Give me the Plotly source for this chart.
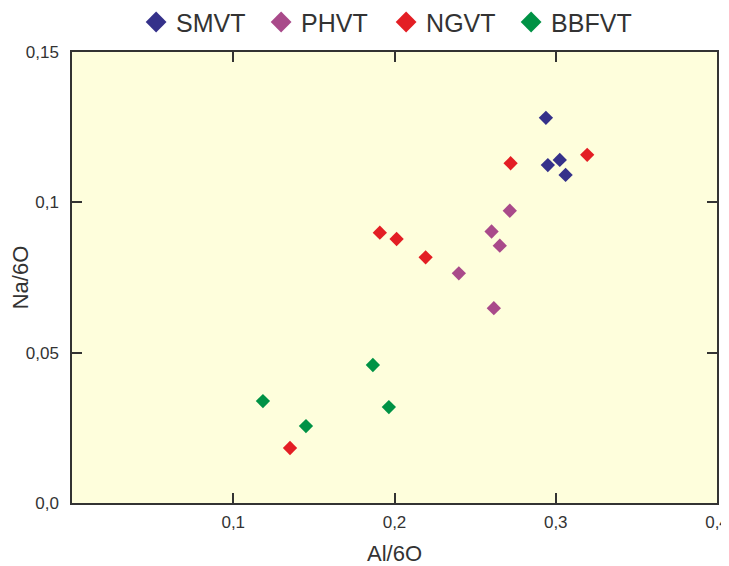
import plotly.graph_objects as go

series_names = ["SMVT", "PHVT", "NGVT", "BBFVT"]
series_colors = ["#35318a", "#a94a8a", "#e31e24", "#009245"]

smvt_x = [0.2939, 0.2951, 0.3025, 0.3061]
smvt_y = [0.1281, 0.1124, 0.1141, 0.1091]

phvt_x = [0.2715, 0.2602, 0.2653, 0.2399, 0.2616]
phvt_y = [0.0972, 0.0903, 0.0856, 0.0764, 0.0648]

ngvt_x = [0.2720, 0.3195, 0.1909, 0.2013, 0.2193, 0.1352]
ngvt_y = [0.1130, 0.1158, 0.0899, 0.0878, 0.0817, 0.0183]

bbfvt_x = [0.1184, 0.1451, 0.1866, 0.1965]
bbfvt_y = [0.0339, 0.0256, 0.0459, 0.0319]

x_tickvals = [0.1, 0.2, 0.3, 0.4]
x_ticktext = ["0,1", "0,2", "0,3", "0,4"]
y_tickvals = [0.0, 0.05, 0.1, 0.15]
y_ticktext = ["0,0", "0,05", "0,1", "0,15"]

data_x = [smvt_x, phvt_x, ngvt_x, bbfvt_x]
data_y = [smvt_y, phvt_y, ngvt_y, bbfvt_y]

fig = go.Figure()
for name, color, xs, ys in zip(series_names, series_colors, data_x, data_y):
    fig.add_trace(go.Scatter(
        x=xs, y=ys, mode="markers", name=name, showlegend=False,
        marker=dict(symbol="diamond", size=11, color=color, line=dict(width=0)),
    ))
# legend entries with larger markers
for name, color in zip(series_names, series_colors):
    fig.add_trace(go.Scatter(
        x=[None], y=[None], mode="markers", name=name, showlegend=True,
        marker=dict(symbol="diamond", size=16, color=color, line=dict(width=0)),
    ))

axis_common = dict(
    showline=True, linecolor="#333333", linewidth=1.5, mirror="ticks",
    ticks="inside", ticklen=10, tickwidth=1.5, tickcolor="#333333",
    showgrid=False, zeroline=False, automargin=False,
    tickfont=dict(family="Liberation Sans, Arial, sans-serif", size=17, color="#333333"),
)

fig.update_layout(
    width=729, height=566,
    margin=dict(l=64, r=20, t=44, b=71, autoexpand=False),
    paper_bgcolor="white",
    plot_bgcolor="#fefedc",
    font=dict(family="Liberation Sans, Arial, sans-serif", color="#333333"),
    legend=dict(
        orientation="h", x=0.487, xanchor="center", y=1.066, yanchor="middle",
        font=dict(size=25, color="#333333"), itemwidth=30, tracegroupgap=0,
        entrywidth=80, entrywidthmode="pixels",
        bgcolor="rgba(0,0,0,0)",
    ),
    xaxis=dict(
        range=[0, 0.4], tickvals=x_tickvals, ticktext=x_ticktext,
        ticklabelstandoff=3,
        title=dict(text="Al/6O", font=dict(size=22, color="#333333"), standoff=14),
        **axis_common,
    ),
    yaxis=dict(
        range=[0, 0.15], tickvals=y_tickvals, ticktext=y_ticktext,
        ticklabelstandoff=8,
        title=dict(text="Na/6O", font=dict(size=22, color="#333333"), standoff=2),
        **axis_common,
    ),
)

fig.write_html("out.html")
